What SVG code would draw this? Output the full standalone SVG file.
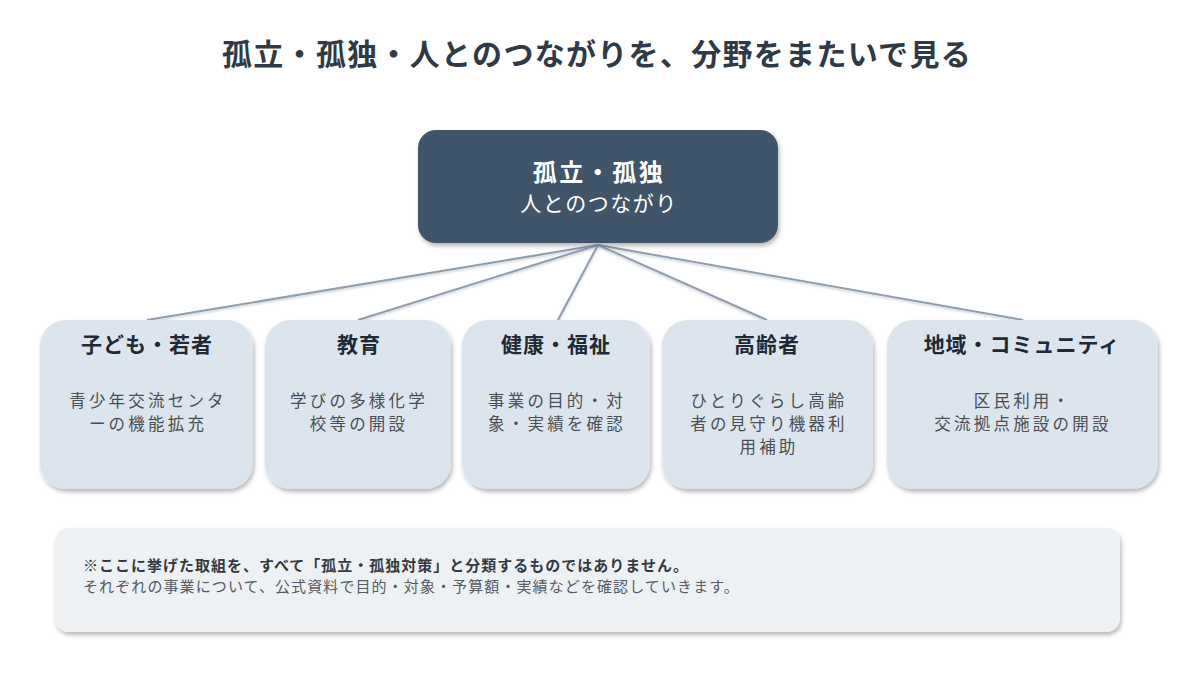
<svg xmlns="http://www.w3.org/2000/svg" width="1200" height="675" viewBox="0 0 1200 675">
<defs>
<filter id="sh" x="-10%" y="-10%" width="120%" height="130%">
<feDropShadow dx="1.5" dy="3" stdDeviation="2" flood-color="#000" flood-opacity="0.28"/>
</filter>
<filter id="lsh" x="-5%" y="-20%" width="110%" height="140%">
<feDropShadow dx="0" dy="1.5" stdDeviation="1" flood-color="#000" flood-opacity="0.2"/>
</filter>
<style>
text{font-family:"Noto Sans CJK JP","Noto Sans",sans-serif;}
.title{font-size:30px;font-weight:700;fill:#2f3a46;letter-spacing:1.3px;}
.cbox{fill:#3f5469;}
.ctitle{font-size:24px;font-weight:700;fill:#ffffff;letter-spacing:2.5px;}
.csub{font-size:21px;fill:#ffffff;letter-spacing:1.5px;}
.box{fill:#dce5ee;}
.h{font-size:21px;font-weight:700;fill:#1f2a36;letter-spacing:1px;}
.b{font-size:16.5px;fill:#4a4f55;letter-spacing:3.2px;}
.note{fill:#eef1f4;}
.n1{font-size:15px;font-weight:700;fill:#333a42;letter-spacing:1px;}
.n2{font-size:15px;fill:#555b62;letter-spacing:1.1px;}
.con{stroke:#8e9eae;stroke-width:2;fill:none;}
</style>
</defs>
<rect width="1200" height="675" fill="#ffffff"/>
<text class="title" x="597" y="65" text-anchor="middle">孤立・孤独・人とのつながりを、分野をまたいで見る</text>

<g id="connectors" filter="url(#lsh)">
<line class="con" x1="598" y1="245" x2="147" y2="320"/>
<line class="con" x1="598" y1="245" x2="358" y2="320"/>
<line class="con" x1="598" y1="245" x2="558" y2="320"/>
<line class="con" x1="598" y1="245" x2="767" y2="320"/>
<line class="con" x1="598" y1="245" x2="1023" y2="320"/>
</g>

<g id="center">
<rect class="cbox" x="418" y="130" width="360" height="113" rx="18" filter="url(#sh)"/>
<text class="ctitle" x="599" y="181" text-anchor="middle">孤立・孤独</text>
<text class="csub" x="599" y="211" text-anchor="middle">人とのつながり</text>
</g>

<g id="youth">
<rect class="box" x="40" y="320" width="213" height="169" rx="26" filter="url(#sh)"/>
<text class="h" x="147" y="352" text-anchor="middle">子ども・若者</text>
<text class="b" x="148" y="407" text-anchor="middle">青少年交流センタ</text>
<text class="b" x="148" y="430" text-anchor="middle">ーの機能拡充</text>
</g>

<g id="education">
<rect class="box" x="265" y="320" width="186" height="169" rx="26" filter="url(#sh)"/>
<text class="h" x="359" y="352" text-anchor="middle">教育</text>
<text class="b" x="359" y="407" text-anchor="middle">学びの多様化学</text>
<text class="b" x="359" y="430" text-anchor="middle">校等の開設</text>
</g>

<g id="health">
<rect class="box" x="462" y="320" width="188" height="169" rx="26" filter="url(#sh)"/>
<text class="h" x="556" y="352" text-anchor="middle">健康・福祉</text>
<text class="b" x="557" y="407" text-anchor="middle">事業の目的・対</text>
<text class="b" x="557" y="430" text-anchor="middle">象・実績を確認</text>
</g>

<g id="elderly">
<rect class="box" x="662" y="320" width="211" height="169" rx="26" filter="url(#sh)"/>
<text class="h" x="767" y="352" text-anchor="middle">高齢者</text>
<text class="b" x="769" y="407" text-anchor="middle">ひとりぐらし高齢</text>
<text class="b" x="769" y="430" text-anchor="middle">者の見守り機器利</text>
<text class="b" x="769" y="453" text-anchor="middle">用補助</text>
</g>

<g id="community">
<rect class="box" x="887" y="320" width="271" height="169" rx="26" filter="url(#sh)"/>
<text class="h" x="1022" y="352" text-anchor="middle">地域・コミュニティ</text>
<text class="b" x="1023" y="407" text-anchor="middle">区民利用・</text>
<text class="b" x="1023" y="430" text-anchor="middle">交流拠点施設の開設</text>
</g>

<g id="note">
<rect class="note" x="55" y="528" width="1065" height="104" rx="14" filter="url(#sh)"/>
<text class="n1" x="83" y="571">※ここに挙げた取組を、すべて「孤立・孤独対策」と分類するものではありません。</text>
<text class="n2" x="83" y="592">それぞれの事業について、公式資料で目的・対象・予算額・実績などを確認していきます。</text>
</g>
</svg>
